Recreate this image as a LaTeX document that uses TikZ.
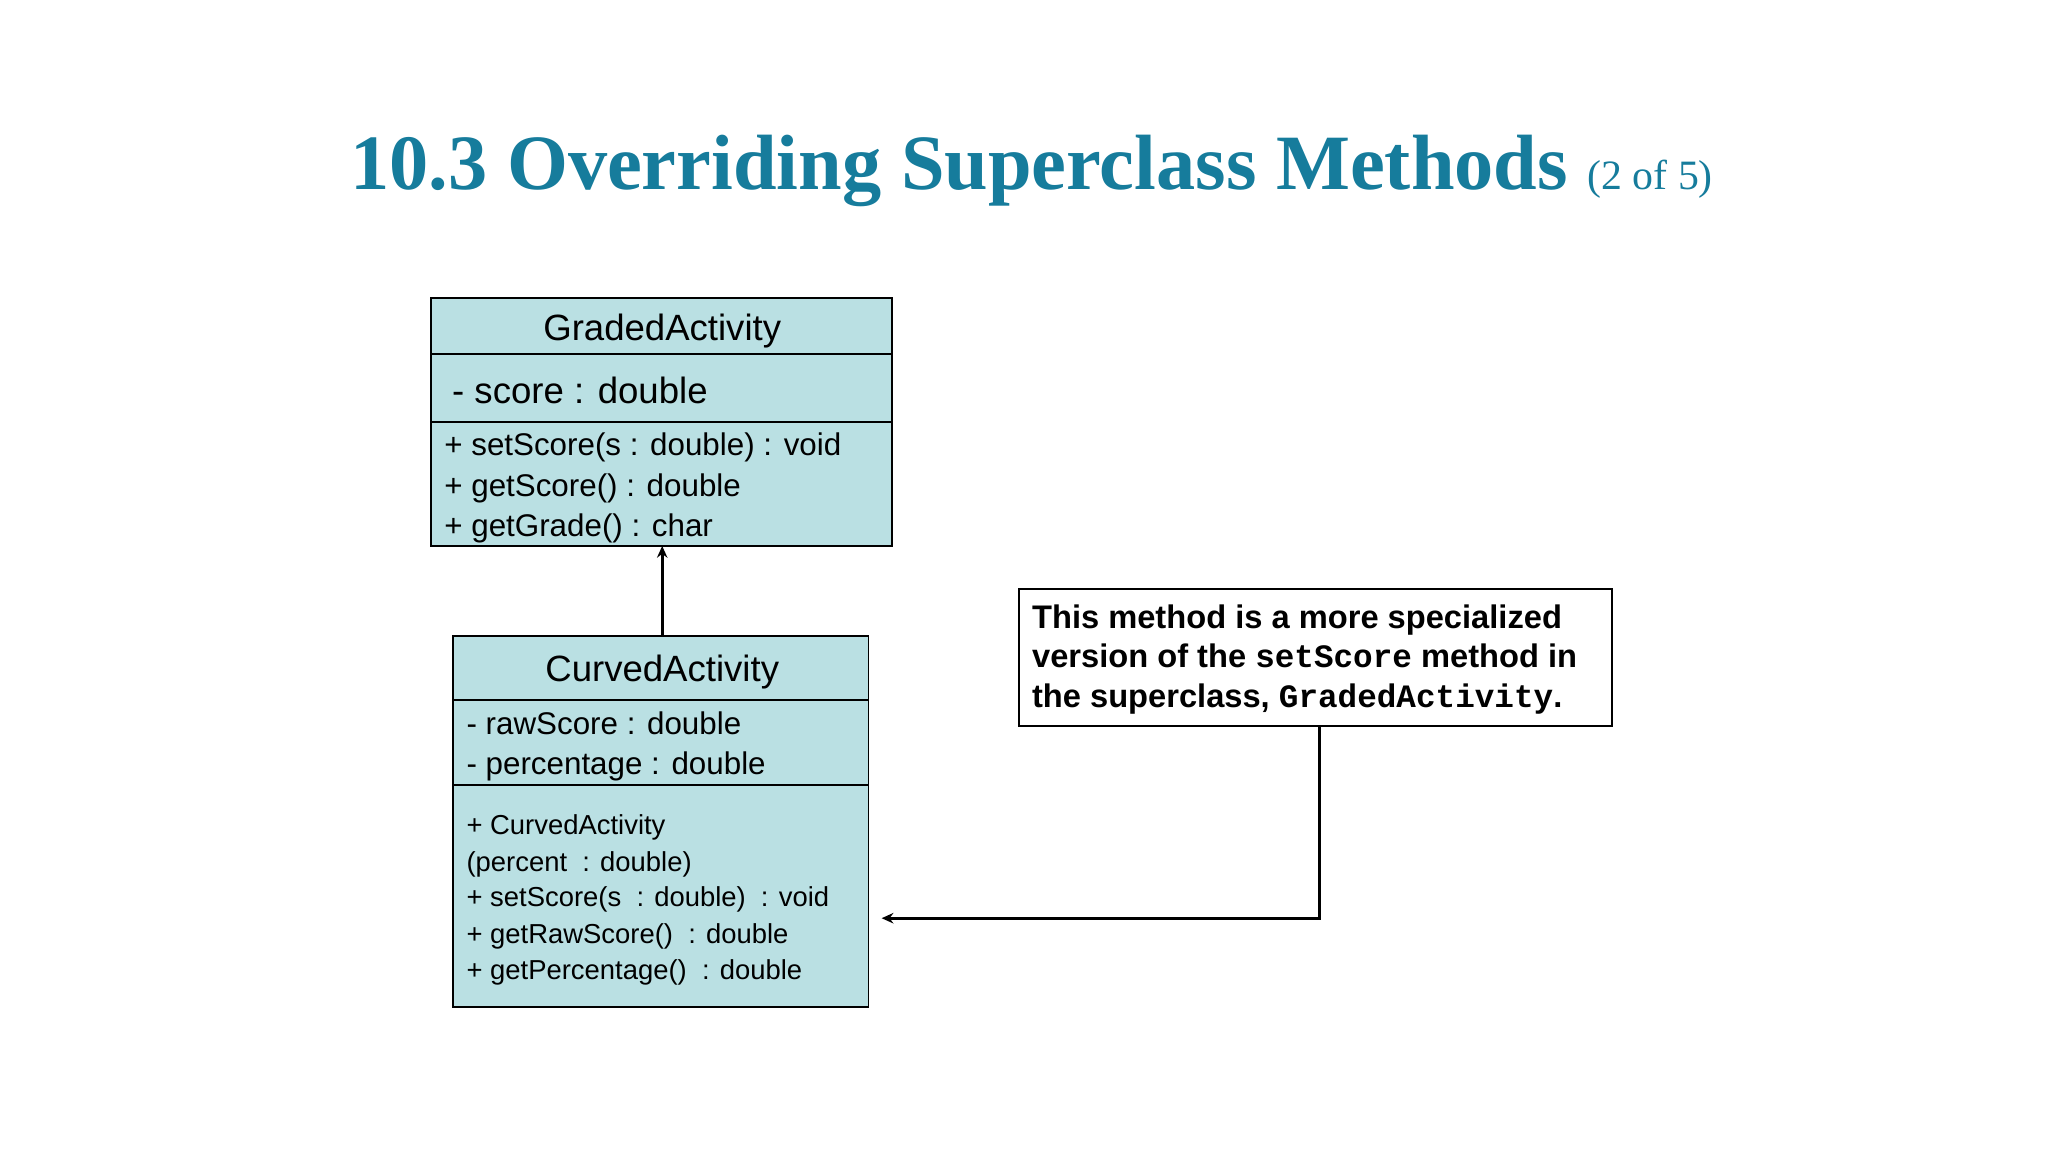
\documentclass[tikz,border=0pt]{standalone}
\usepackage{fontspec}
\setmainfont{Liberation Sans}
\newfontfamily\serif{Liberation Serif}
\setmonofont{Liberation Mono}
\usetikzlibrary{arrows.meta}
\definecolor{umlfill}{RGB}{186,224,227}
\definecolor{titlec}{RGB}{22,124,156}
\tikzset{
  umlbox/.style={draw=black,fill=umlfill,line width=1.3pt},
  sepline/.style={line width=1.3pt},
  txt/.style={anchor=base west,inner sep=0pt},
  ctxt/.style={anchor=base,inner sep=0pt},
  conn/.style={line width=2pt,-{Stealth[length=9pt,width=8pt]}}
}
\begin{document}
\begin{tikzpicture}[x=1pt,y=-1pt]
\useasboundingbox (0,0) rectangle (1568,882);
\node[txt,text=titlec] (title) at (268,145) {\serif\bfseries\fontsize{60}{60}\selectfont 10.3 Overriding Superclass Methods \fontsize{32}{32}\selectfont\mdseries (2 of 5)};
% GradedActivity
\draw[umlbox] (330,228) rectangle (683,418);
\coordinate (gabot) at (507,418);
\draw[sepline] (330,271) -- (683,271);
\draw[sepline] (330,323) -- (683,323);
\node[ctxt] (ga) at (507,261) {\fontsize{28}{28}\selectfont GradedActivity};
\node[txt] (ga1) at (346,309) {\fontsize{28}{28}\selectfont - score : double};
\node[txt] (ga2) at (340,349) {\fontsize{24}{24}\selectfont + setScore(s : double) : void};
\node[txt] (ga3) at (340,380) {\fontsize{24}{24}\selectfont + getScore() : double};
\node[txt] (ga4) at (340,411) {\fontsize{24}{24}\selectfont + getGrade() : char};
% CurvedActivity
\draw[umlbox] (347,487) rectangle (665,771);
\coordinate (catop) at (507,487);
\draw[sepline] (347,536) -- (665,536);
\draw[sepline] (347,601) -- (665,601);
\node[ctxt] (ca) at (507,522) {\fontsize{28}{28}\selectfont CurvedActivity};
\node[txt] (ca1) at (357,562) {\fontsize{24}{24}\selectfont - rawScore : double};
\node[txt] (ca2) at (357,593) {\fontsize{24}{24}\selectfont - percentage : double};
\node[txt] (cm1) at (357,639) {\fontsize{21}{21}\selectfont + CurvedActivity};
\node[txt] (cm2) at (357,667) {\fontsize{21}{21}\selectfont (percent \ : double)};
\node[txt] (cm3) at (357,694) {\fontsize{21}{21}\selectfont + setScore(s \ : double) \ : void};
\node[txt] (cm4) at (357,722) {\fontsize{21}{21}\selectfont + getRawScore() \ : double};
\node[txt] (cm5) at (357,750) {\fontsize{21}{21}\selectfont + getPercentage() \ : double};
\coordinate (caright) at (675,703);
\draw[conn] (catop) -- (gabot);
% note
\draw[line width=1.3pt,fill=white] (780,451) rectangle (1234,556);
\coordinate (notebot) at (1010,556);
\coordinate (bend) at (1010,703);
\node[txt] (n1) at (790,481) {\fontsize{25}{25}\selectfont\bfseries This method is a more specialized};
\node[txt] (n2) at (790,511) {\fontsize{25}{25}\selectfont\bfseries version of the \texttt{setScore} method in};
\node[txt] (n3) at (790,542) {\fontsize{25}{25}\selectfont\bfseries the superclass, \texttt{GradedActivity}.};
\draw[conn] (notebot) -- (bend) -- (caright);
\end{tikzpicture}
\end{document}
